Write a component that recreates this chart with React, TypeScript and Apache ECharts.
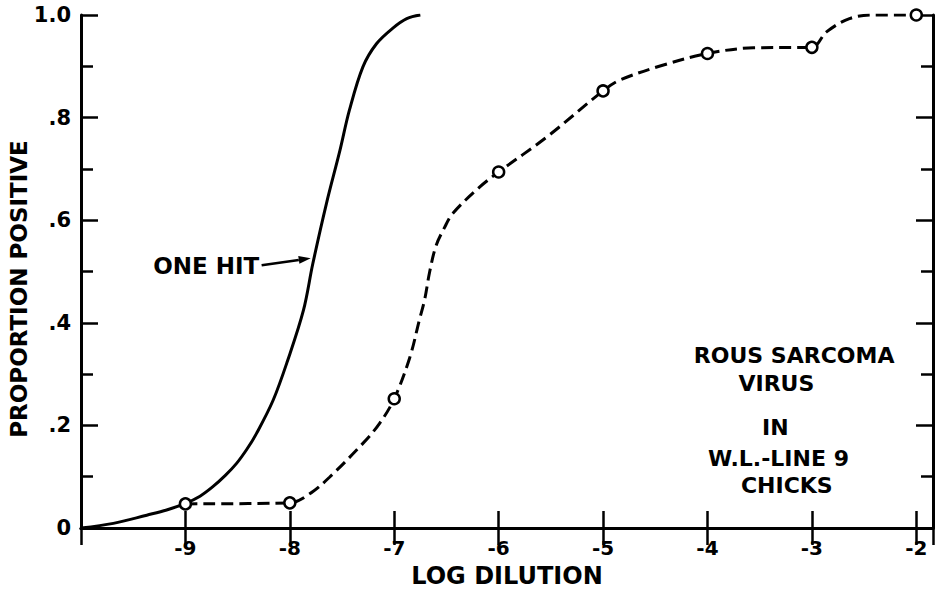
import React, { useEffect, useRef } from "react";
import * as echarts from "echarts";

// One-hit theoretical curve
const oneHitX = [-10, -9.69, -9.37, -9.18, -9.0, -8.86, -8.74, -8.62, -8.51, -8.41, -8.32, -8.16, -8.02, -7.87, -7.78, -7.65, -7.52, -7.43, -7.3, -7.17, -7.01, -6.88, -6.75];
const oneHitY = [0.0, 0.009, 0.025, 0.035, 0.048, 0.062, 0.08, 0.102, 0.126, 0.154, 0.184, 0.249, 0.327, 0.424, 0.515, 0.632, 0.736, 0.814, 0.899, 0.944, 0.975, 0.993, 1.0];

// Dashed fitted curve through observations
const fitX = [-9, -8, -7.8, -7.62, -7.3, -7.14, -7.0, -6.85, -6.76, -6.71, -6.66, -6.6, -6.52, -6.44, -6.18, -6.0, -5.54, -5.0, -4.84, -4.43, -4.0, -3.56, -3.0, -2.86, -2.64, -2.4, -2.0];
const fitY = [0.047, 0.049, 0.068, 0.099, 0.165, 0.204, 0.252, 0.333, 0.405, 0.444, 0.5, 0.55, 0.585, 0.613, 0.665, 0.694, 0.762, 0.852, 0.873, 0.902, 0.925, 0.936, 0.937, 0.967, 0.993, 1.0, 1.0];

// Observed points (open circles)
const obsX = [-9, -8, -7, -6, -5, -4, -3, -2];
const obsY = [0.047, 0.049, 0.252, 0.694, 0.852, 0.925, 0.937, 1.0];

const xMin = -10;
const xMax = -1.84;

const annotationLines = ["ROUS SARCOMA", "VIRUS", "IN", "W.L.-LINE 9", "CHICKS"];
const annotationX = [-3.17, -3.34, -3.35, -3.32, -3.24];
const annotationY = [0.336, 0.281, 0.195, 0.136, 0.082];

const oneHitLabel = "ONE HIT";
const oneHitLabelPos = [-8.8, 0.51];
const arrowFrom = [-8.27, 0.512];
const arrowTo = [-7.8, 0.526];

const FONT = "DejaVu Sans";

export default function App() {
  const ref = useRef<HTMLDivElement>(null);
  useEffect(() => {
    document.body.style.margin = "0";
    const chart = echarts.init(ref.current!, null, { renderer: "svg" });
    const axisLine = { show: true, lineStyle: { color: "#000", width: 3 } };
    const tick = { show: true, inside: true, length: 17, lineStyle: { color: "#000", width: 2.5 } };
    const isInt = (v: number) => Math.abs(v - Math.round(v)) < 1e-6;
    chart.setOption({
      animation: false,
      backgroundColor: "#fff",
      grid: { left: 81, right: 9, top: 15, bottom: 69, containLabel: false },
      xAxis: [
        {
          type: "value", position: "bottom", min: xMin, max: xMax, interval: 1,
          axisLine, axisTick: tick, splitLine: { show: false },
          axisLabel: {
            color: "#000", fontFamily: FONT, fontWeight: "bold", fontSize: 20, margin: 10,
            formatter: (v: number) => (isInt(v) && Math.round(v) !== -10 ? String(Math.round(v)) : ""),
          },
          name: "LOG DILUTION", nameLocation: "middle", nameGap: 36,
          nameTextStyle: { color: "#000", fontFamily: FONT, fontWeight: "bold", fontSize: 24 },
        },
        {
          type: "value", position: "top", min: xMin, max: xMax, interval: 1,
          axisLine, axisTick: tick, splitLine: { show: false }, axisLabel: { show: false },
        },
      ],
      yAxis: [
        {
          type: "value", position: "left", min: 0, max: 1, interval: 0.2,
          axisLine, axisTick: tick,
          minorTick: { show: true, splitNumber: 2, length: 12, lineStyle: { color: "#000", width: 2.5 } },
          splitLine: { show: false },
          axisLabel: {
            color: "#000", fontFamily: FONT, fontWeight: "bold", fontSize: 21, margin: 10,
            formatter: (v: number) => (v === 0 ? "0" : v >= 0.999 ? "1.0" : "." + Math.round(v * 10)),
          },
        },
        {
          type: "value", position: "right", min: 0, max: 1, interval: 0.2,
          axisLine, axisTick: tick,
          minorTick: { show: true, splitNumber: 2, length: 12, lineStyle: { color: "#000", width: 2.5 } },
          splitLine: { show: false }, axisLabel: { show: false },
        },
      ],
      series: [
        {
          name: "One hit", type: "line", xAxisIndex: 0, yAxisIndex: 0,
          data: oneHitX.map((x, i) => [x, oneHitY[i]]),
          showSymbol: false, symbol: "none", smooth: 0.35,
          lineStyle: { color: "#000", width: 3 }, z: 3,
        },
        {
          name: "Fit", type: "line", xAxisIndex: 0, yAxisIndex: 0,
          data: fitX.map((x, i) => [x, fitY[i]]),
          showSymbol: false, symbol: "none", smooth: 0.35,
          lineStyle: { color: "#000", width: 3, type: [12, 6] }, z: 3,
        },
        {
          name: "Observed", type: "scatter", xAxisIndex: 0, yAxisIndex: 0,
          data: obsX.map((x, i) => [x, obsY[i]]),
          symbol: "circle", symbolSize: 11,
          itemStyle: { color: "#fff", borderColor: "#000", borderWidth: 2.5, opacity: 1 }, z: 5,
        },
      ],
    });

    const px = (p: number[]) => chart.convertToPixel({ gridIndex: 0 }, p) as number[];
    const textStyle = (fs: number) => ({
      fill: "#000", font: `bold ${fs}px "${FONT}"`, align: "center", verticalAlign: "middle",
    });
    const a = px(arrowFrom);
    const b = px(arrowTo);
    const dx = b[0] - a[0], dy = b[1] - a[1];
    const len = Math.sqrt(dx * dx + dy * dy);
    const ux = dx / len, uy = dy / len;
    const hl = 12, hw = 4;
    const base = [b[0] - ux * hl, b[1] - uy * hl];
    const lbl = px(oneHitLabelPos);
    const graphic: any[] = [
      {
        type: "text", x: 19, y: 289, rotation: Math.PI / 2,
        style: { ...textStyle(23), text: "PROPORTION POSITIVE" },
      },
      { type: "text", x: lbl[0], y: lbl[1], style: { ...textStyle(23), text: oneHitLabel } },
      {
        type: "line", shape: { x1: a[0], y1: a[1], x2: base[0], y2: base[1] },
        style: { stroke: "#000", lineWidth: 2.5 },
      },
      {
        type: "polygon",
        shape: {
          points: [
            [b[0], b[1]],
            [base[0] - uy * hw, base[1] + ux * hw],
            [base[0] + uy * hw, base[1] - ux * hw],
          ],
        },
        style: { fill: "#000" },
      },
    ];
    annotationLines.forEach((t, i) => {
      const p = px([annotationX[i], annotationY[i]]);
      graphic.push({ type: "text", x: p[0], y: p[1], style: { ...textStyle(22), text: t } });
    });
    chart.setOption({ graphic });
    return () => chart.dispose();
  }, []);
  return <div ref={ref} style={{ width: 942, height: 597 }} />;
}
